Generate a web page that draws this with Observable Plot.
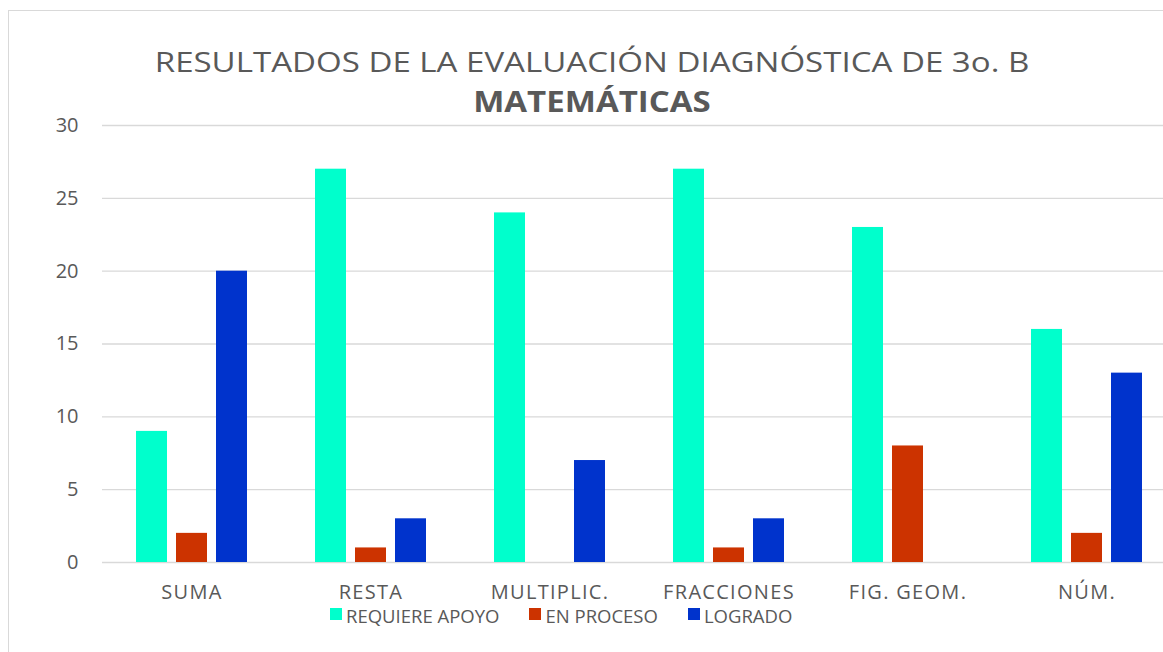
<!DOCTYPE html>
<html>
<head>
<meta charset="utf-8">
<script src="https://cdn.jsdelivr.net/npm/d3@7"></script>
<script src="https://cdn.jsdelivr.net/npm/@observablehq/plot@0.6"></script>
<style>
  html, body { margin: 0; padding: 0; background: #fff; overflow: hidden; }
  #wrap { position: relative; width: 1163px; height: 652px; overflow: hidden; font-family: "Open Sans", sans-serif; color: #595959; }
  #frame { position: absolute; left: 8px; top: 10px; width: 1300px; height: 800px; border: 1px solid #d9d9d9; box-sizing: border-box; }
  #title { position: absolute; left: 0; top: 45px; width: 1184px; text-align: center; font-size: 28px; line-height: 32px; white-space: nowrap; transform: scaleX(1.18); transform-origin: 592px 0; }
  #subtitle { position: absolute; left: 0; top: 85px; width: 1184px; text-align: center; font-size: 28px; font-weight: bold; line-height: 32px; white-space: nowrap; transform: scaleX(1.18); transform-origin: 592px 0; }
  #chart { position: absolute; left: 0; top: 0; }
  #legend { position: absolute; left: 330px; top: 605px; font-size: 18.5px; line-height: 22px; white-space: nowrap; display: flex; }
  .item { display: flex; align-items: center; margin-right: 30px; }
  .sw { width: 12px; height: 12px; margin-right: 4px; position: relative; top: -2px; }
</style>
</head>
<body>
<div id="wrap">
  <div id="frame"></div>
  <div id="title">RESULTADOS DE LA EVALUACIÓN DIAGNÓSTICA DE 3o. B</div>
  <div id="subtitle">MATEMÁTICAS</div>
  <div id="chart"></div>
  <div id="legend"></div>
</div>
<script>
const categories = ["SUMA", "RESTA", "MULTIPLIC.", "FRACCIONES", "FIG. GEOM.", "NÚM."];
const series = ["REQUIERE APOYO", "EN PROCESO", "LOGRADO"];
const requiereApoyo = [9, 27, 24, 27, 23, 16];
const enProceso = [2, 1, 0, 1, 8, 2];
const logrado = [20, 3, 7, 3, 0, 13];
const colors = ["#00FFCC", "#CC3300", "#0033CC"];
const yTicks = [0, 5, 10, 15, 20, 25, 30];

const values = [requiereApoyo, enProceso, logrado];
const data = [];
categories.forEach((c, i) => {
  series.forEach((s, j) => data.push({categoria: c, serie: s, valor: values[j][i]}));
});

const chart = Plot.plot({
  width: 1177,
  height: 620,
  marginLeft: 101,
  marginRight: 0,
  marginTop: 125,
  marginBottom: 58,
  style: { fontFamily: "Open Sans, sans-serif", fontSize: "20px", color: "#595959", background: "transparent", overflow: "visible", maxWidth: "none" },
  fx: { domain: categories, padding: 0, label: null, tickSize: 0, tickPadding: 22 },
  x: { domain: series, paddingInner: 0.225, paddingOuter: 0.85, axis: null },
  y: { domain: [0, 30], ticks: yTicks, tickSize: 0, tickPadding: 24, label: null },
  color: { domain: series, range: colors },
  marks: [
    Plot.ruleY(yTicks, { stroke: "#d9d9d9", strokeWidth: 1.3 }),
    Plot.barY(data, { fx: "categoria", x: "serie", y: "valor", fill: "serie" })
  ]
});
chart.querySelectorAll('[aria-label="fx-axis tick label"] text').forEach(t => t.setAttribute("letter-spacing", "1.3px"));
document.getElementById("chart").appendChild(chart);

const legend = document.getElementById("legend");
series.forEach((s, j) => {
  const it = document.createElement("div");
  it.className = "item";
  const sw = document.createElement("div");
  sw.className = "sw";
  sw.style.background = colors[j];
  const t = document.createElement("span");
  t.textContent = s;
  it.appendChild(sw); it.appendChild(t);
  legend.appendChild(it);
});
</script>
</body>
</html>
